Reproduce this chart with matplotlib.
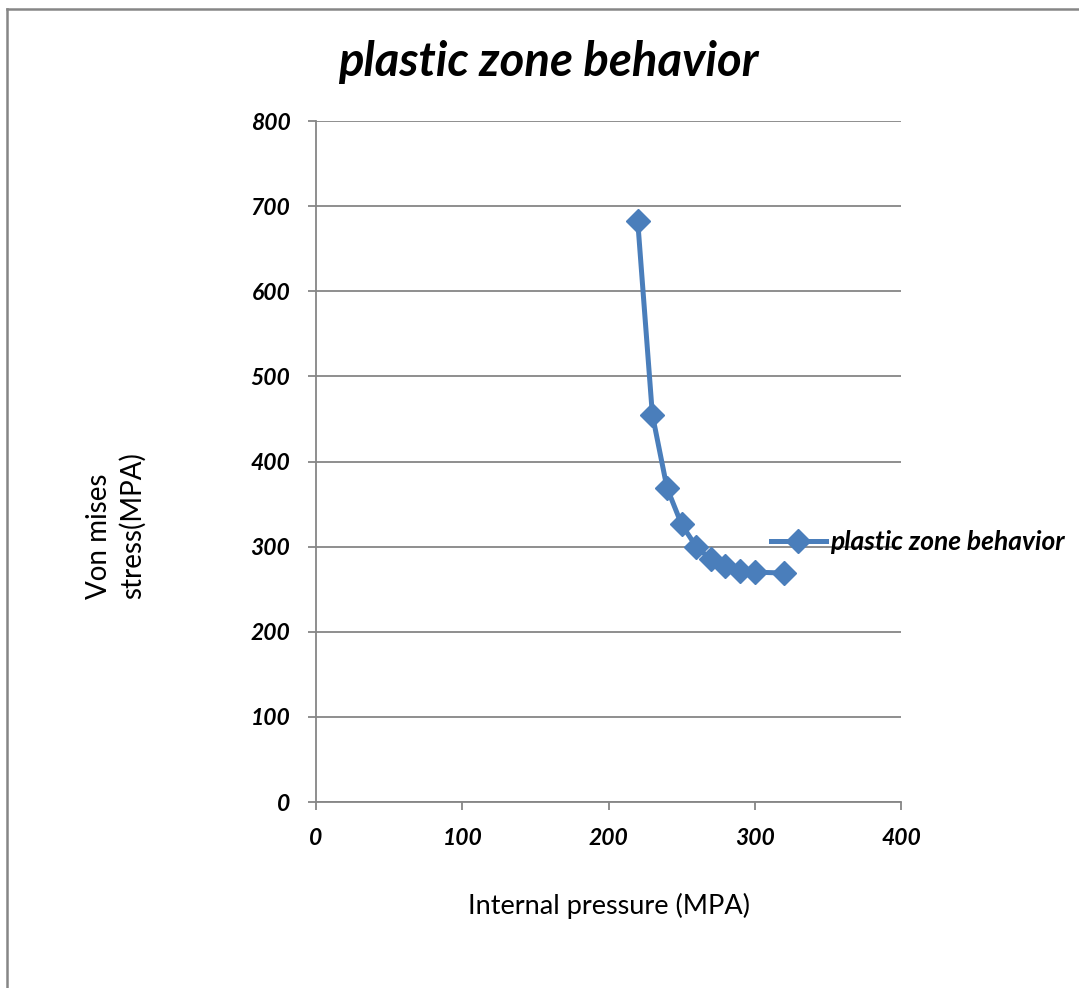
import matplotlib
matplotlib.use("Agg")
import matplotlib.pyplot as plt
from matplotlib.lines import Line2D

# data
pressure = [220, 230, 240, 250, 260, 270, 280, 290, 300, 320]
von_mises = [682, 455, 369, 326, 300, 285, 277, 271, 270, 269]
x_ticks = [0, 100, 200, 300, 400]
y_ticks = [0, 100, 200, 300, 400, 500, 600, 700, 800]

series_name = "plastic zone behavior"
LINE_COLOR = "#4A7EBB"
GRID_COLOR = "#868686"

plt.rcParams['font.family'] = ['Lato', 'DejaVu Sans']

fig = plt.figure(figsize=(10.79, 9.88), dpi=100)
ax = fig.add_axes([316 / 1079, 1 - 802 / 988, (901 - 316) / 1079, (802 - 121) / 988])

ax.plot(pressure, von_mises, color=LINE_COLOR, linewidth=3.6, marker='D',
        markersize=12, solid_joinstyle='round', solid_capstyle='round',
        label=series_name, clip_on=False, zorder=3)

ax.set_xlim(0, 400)
ax.set_ylim(0, 800)
ax.set_xticks(x_ticks)
ax.set_yticks(y_ticks)
ax.set_xticklabels([str(v) for v in x_ticks], fontsize=16.5, fontweight='bold', fontstyle='italic')
ax.set_yticklabels([str(v) for v in y_ticks], fontsize=16.5, fontweight='bold', fontstyle='italic')
ax.tick_params(axis='both', direction='out', length=5.5, width=1.3, color=GRID_COLOR, pad=13)

# gridlines horizontal only
ax.yaxis.grid(True, color=GRID_COLOR, linewidth=1.3)
ax.set_axisbelow(True)
for side in ['top', 'right']:
    ax.spines[side].set_visible(False)
for side in ['left', 'bottom']:
    ax.spines[side].set_color(GRID_COLOR)
    ax.spines[side].set_linewidth(1.3)

ax.set_xlabel("Internal pressure (MPA)", fontsize=19.5, fontweight='normal', labelpad=32)
fig.text(116 / 1079, 1 - 526 / 988, "Von mises\nstress(MPA)", rotation=90, fontsize=20,
         fontweight='normal', ha='center', va='center', multialignment='left', linespacing=1.35)

fig.text(548 / 1079, 1 - 62 / 988, series_name, fontsize=34, fontweight='bold',
         fontstyle='italic', ha='center', va='center')

leg = fig.legend(handles=[Line2D([0], [0], color=LINE_COLOR, linewidth=3.6, marker='D', markersize=12)],
                 labels=[series_name], loc='center left', bbox_to_anchor=(747 / 1079, 1 - 542 / 988),
                 frameon=False, handlelength=2.1, handletextpad=0.15,
                 prop={'size': 19, 'weight': 'bold', 'style': 'italic'})

# outer chart border (only top and left visible in the reference)
fig.add_artist(Line2D([7 / 1079, 7 / 1079], [0, 1 - 9 / 988], color=GRID_COLOR, linewidth=1.8))
fig.add_artist(Line2D([7 / 1079, 1], [1 - 9 / 988, 1 - 9 / 988], color=GRID_COLOR, linewidth=1.8))

fig.savefig("out.png", dpi=100)
